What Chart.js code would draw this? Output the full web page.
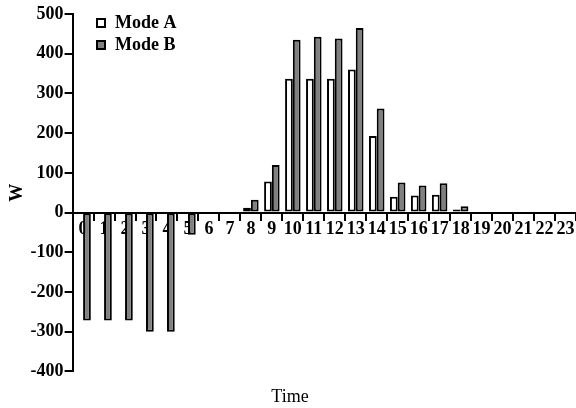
<!DOCTYPE html>
<html><head><meta charset="utf-8">
<script src="https://cdn.jsdelivr.net/npm/chart.js@4"></script>
<style>html,body{margin:0;padding:0;background:#fff}</style>
</head><body>
<canvas id="c" width="576" height="408" style="width:576px;height:408px;display:block"></canvas>
<script>
const hours = ['0','1','2','3','4','5','6','7','8','9','10','11','12','13','14','15','16','17','18','19','20','21','22','23'];
const modeA = [0,0,0,0,0,0,0,0,12,78,337,337,337,360,193,40,43,45,8,0,0,0,0,0];
const modeB = [-272,-272,-272,-300,-300,-56,0,0,32,120,435,443,438,465,262,76,68,74,16,0,0,0,0,0];
const yTicks = [-400,-300,-200,-100,0,100,200,300,400,500];
const FONT = '"Liberation Serif", "Times New Roman", serif';

const insideLegend = {
  id: 'insideLegend',
  afterDraw(chart) {
    const ctx = chart.ctx;
    ctx.save();
    ctx.font = 'bold 18px ' + FONT;
    ctx.textBaseline = 'middle';
    chart.data.datasets.forEach((d, i) => {
      const x = 97, y = 23 + i * 22;
      ctx.fillStyle = d.backgroundColor;
      ctx.fillRect(x, y - 4, 8, 8);
      ctx.lineWidth = 2;
      ctx.strokeStyle = '#000';
      ctx.strokeRect(x, y - 4, 8, 8);
      ctx.fillStyle = '#000';
      ctx.fillText(d.label, x + 18, y);
    });
    ctx.restore();
  }
};

new Chart(document.getElementById('c'), {
  type: 'bar',
  data: {
    labels: hours,
    datasets: [
      { label: 'Mode A', data: modeA, backgroundColor: '#ffffff', borderColor: '#000', borderWidth: 2, borderSkipped: false },
      { label: 'Mode B', data: modeB, backgroundColor: '#808080', borderColor: '#000', borderWidth: 2, borderSkipped: false }
    ]
  },
  options: {
    responsive: false,
    animation: false,
    datasets: { bar: { categoryPercentage: 0.74, barPercentage: 1.0 } },
    layout: { padding: { left: 4, right: 0, top: 14, bottom: 0 } },
    plugins: {
      legend: { display: false },
      tooltip: { enabled: false },
      title: { display: true, position: 'bottom', text: 'Time', color: '#000', font: { family: FONT, size: 18, weight: 'normal' }, padding: { top: 15, bottom: 0 } }
    },
    scales: {
      x: {
        position: { y: 0 },
        offset: true,
        grid: { offset: true, drawOnChartArea: false, tickLength: 7, color: '#000', lineWidth: 2 },
        border: { color: '#000', width: 2 },
        ticks: { color: '#000', font: { family: FONT, size: 18, weight: 'bold' }, padding: -1, autoSkip: false, maxRotation: 0 }
      },
      y: {
        min: -400, max: 500,
        afterBuildTicks: (axis) => { axis.ticks = yTicks.map(v => ({ value: v })); },
        grid: { drawOnChartArea: false, tickLength: 8, color: '#000', lineWidth: 2 },
        border: { color: '#000', width: 2 },
        ticks: { color: '#000', font: { family: FONT, size: 18, weight: 'bold' }, padding: 1 },
        title: { display: true, text: 'W', color: '#000', font: { family: FONT, size: 18, weight: 'bold' }, padding: { top: 3, bottom: 1 } }
      }
    }
  },
  plugins: [insideLegend]
});
</script>
</body></html>
